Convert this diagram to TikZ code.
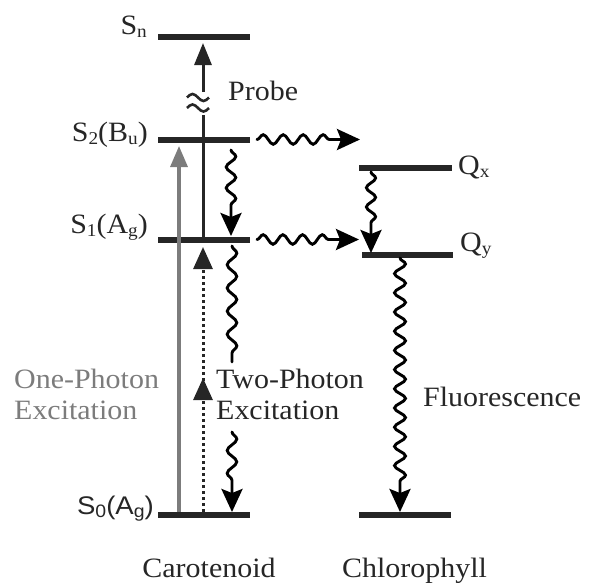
\documentclass[tikz,border=0pt]{standalone}
\usepackage{fontspec}
\setmainfont{Liberation Serif}[FakeStretch=1.07]
\setsansfont{Liberation Sans}[FakeStretch=1.08]
\usetikzlibrary{arrows.meta,decorations.pathmorphing}
\definecolor{ink}{HTML}{262626}
\definecolor{onegray}{HTML}{7C7C7C}
\newcommand\lowsub[1]{\raisebox{-3pt}{\fontsize{18}{18}\selectfont #1}}
\begin{document}
\begin{tikzpicture}[x=1pt,y=-1pt,
  level/.style={fill=ink, draw=none, minimum width=92pt, minimum height=6pt, inner sep=0pt, outer sep=0pt},
  lbl/.style={font=\fontsize{28}{31}\selectfont, text=ink, inner sep=0pt, align=left},
  graylbl/.style={lbl, text=onegray},
  straightarr/.style={draw=ink, line width=3pt, -{Triangle[length=22pt,width=17pt]}},
  plainline/.style={draw=ink, line width=3pt},
  grayarr/.style={draw=onegray, line width=3.3pt, -{Triangle[length=21pt,width=17pt]}},
  dotarr/.style={draw=ink, line width=3pt, dash pattern=on 3pt off 3pt, -{Triangle[length=22pt,width=19pt]}},
  wavearr/.style 2 args={draw=black, line width=2.9pt, line cap=round, decorate,
     decoration={snake, amplitude=#1, segment length=#2, post length=23pt},
     -{Stealth[length=23pt,width=21pt,inset=4pt]}},
  waveline/.style 2 args={draw=black, line width=2.9pt, line cap=round, decorate,
     decoration={snake, amplitude=#1, segment length=#2}},
  tildebrk/.style={draw=ink, line width=2.6pt}
]
\useasboundingbox (0,0) rectangle (592,582);

% energy levels
\node[level] (Sn) at (204,36.5) {};
\node[level] (S2) at (204,139.5) {};
\node[level] (S1) at (204,239.5) {};
\node[level] (S0) at (204,515) {};
\node[level, minimum width=93pt] (Qx) at (405.5,168) {};
\node[level, minimum width=91pt] (Qy) at (407.5,255) {};
\node[level] (C0) at (405,514.5) {};

% level labels
\node[lbl, anchor=base east] (lSn) at (147,34) {S\lowsub{n}};
\node[lbl, anchor=base east] (lS2) at (148,141) {S\lowsub{2}(B\lowsub{u})};
\node[lbl, anchor=base east] (lS1) at (148,233) {S\lowsub{1}(A\lowsub{g})};
\node[lbl, font=\sffamily\fontsize{25.5}{30}\selectfont, anchor=base east] (lS0) at (154,514) {S\lowsub{0}(A\lowsub{g})};
\node[lbl, anchor=base west] (lQx) at (458,174) {Q\lowsub{x}};
\node[lbl, anchor=base west] (lQy) at (460,251) {Q\lowsub{y}};

% probe (broken line)
\coordinate (prA) at (203,237);
\coordinate (prB) at (203,115);
\coordinate (prC) at (203,92);
\coordinate (prD) at (203,43);
\draw[plainline] (prA) -- (prB);
\draw[straightarr] (prC) -- (prD);
\draw[tildebrk] (187,97.5) sin (192.5,94) cos (198,97.5) sin (203.5,101) cos (209,97.5);
\draw[tildebrk] (187,108) sin (192.5,104.5) cos (198,108) sin (203.5,111.5) cos (209,108);
\node[lbl, anchor=base west] (lprobe) at (228,100) {Probe};

% one-photon excitation
\coordinate (ga0) at (179,512);
\coordinate (ga1) at (179,146);
\draw[grayarr] (ga0) -- (ga1);
\node[graylbl, anchor=base west] (lone) at (14,419) {One-Photon\\Excitation};

% two-photon excitation (dotted, with a mid arrowhead)
\coordinate (da0) at (203,512);
\coordinate (da1) at (203,378);
\coordinate (da2) at (203,399);
\coordinate (da3) at (203,247);
\draw[dotarr] (da0) -- (da1);
\draw[dotarr] (da2) -- (da3);
\node[lbl, anchor=base west] (ltwo) at (216,419) {Two-Photon\\Excitation};

% internal conversion S2 -> S1
\coordinate (w1a) at (231,150);
\coordinate (w1b) at (231,236);
\draw[wavearr={4.8pt}{20.95pt}] (w1a) -- (w1b);

% S1 -> S0 (interrupted by the label)
\coordinate (w2a) at (232,246);
\coordinate (w2b) at (232,362);
\coordinate (w2c) at (232,432);
\coordinate (w2d) at (232,512);
\draw[waveline={4.8pt}{23.15pt}] (w2a) -- (w2b);
\draw[wavearr={4.8pt}{22.75pt}] (w2c) -- (w2d);

% energy transfer to chlorophyll
\coordinate (w3a) at (257,139.5);
\coordinate (w3b) at (360,139.5);
\draw[wavearr={4.8pt}{19.95pt}] (w3a) -- (w3b);
\coordinate (w4a) at (257,239.5);
\coordinate (w4b) at (359,239.5);
\draw[wavearr={4.8pt}{19.7pt}] (w4a) -- (w4b);

% Qx -> Qy
\coordinate (w5a) at (371,172);
\coordinate (w5b) at (371,253);
\draw[wavearr={4.6pt}{19.3pt}] (w5a) -- (w5b);

% fluorescence
\coordinate (w6a) at (400,258);
\coordinate (w6b) at (400,512);
\draw[wavearr={5.5pt}{19.2pt}] (w6a) -- (w6b);
\node[lbl, anchor=base west] (lfl) at (423,406) {Fluorescence};

% molecule names
\node[lbl, anchor=base] (lcar) at (209,577) {Carotenoid};
\node[lbl, anchor=base] (lchl) at (414.5,577) {Chlorophyll};
\end{tikzpicture}
\end{document}
